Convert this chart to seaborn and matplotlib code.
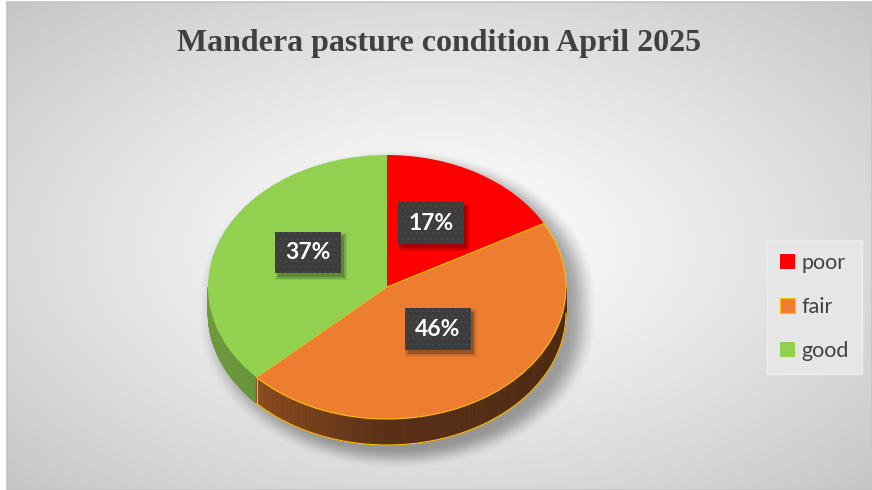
import numpy as np
import matplotlib
matplotlib.use("Agg")
import matplotlib.pyplot as plt
import seaborn as sns
from matplotlib.collections import PolyCollection
from matplotlib.patches import Rectangle
from matplotlib.colors import to_rgb

categories = ["poor", "fair", "good"]
shares = [17, 46, 37]
hex_colors = ["#FF0000", "#ED7D31", "#92D050"]
title = "Mandera pasture condition April 2025"

sns.set_theme(style="white")
plt.rcParams["font.family"] = ["Lato", "DejaVu Sans"]
plt.rcParams["hatch.linewidth"] = 0.6
colors = sns.color_palette(hex_colors)

W, H = 872, 490
fig = plt.figure(figsize=(W / 100, H / 100), dpi=100)
fig.patch.set_facecolor("white")

# ---- chart-area background: radial grey gradient ----
bg = fig.add_axes([7 / W, 0, (W - 7) / W, (H - 2) / H])
bg.set_axis_off()
gx, gy = np.meshgrid(np.linspace(-1, 1, 400), np.linspace(-1, 1, 240))
r = np.sqrt(gx ** 2 + gy ** 2) / np.sqrt(2)
val = 1.0 - (1.0 - 0.775) * np.clip(r, 0, 1) ** 1.2
bg.imshow(np.dstack([val, val, val]), extent=[0, 1, 0, 1], aspect="auto",
          interpolation="bilinear")
bg.set_xlim(0, 1)
bg.set_ylim(0, 1)
bg.add_patch(Rectangle((0, 0), 1, 1, fill=False, ec="#c4c4c4", lw=1.2,
                       transform=bg.transAxes, clip_on=False))

# ---- pie axes (elliptical projection: 179 px per x unit, 132 px per y unit) ----
cx, cy, rx, ry = 387, 287, 179, 132
xl, yt, yb = 1.3, 1.3, 1.5
ax = fig.add_axes([(cx - xl * rx) / W, (H - (cy + yb * ry)) / H,
                   2 * xl * rx / W, (yt + yb) * ry / H])
depth = 26 / ry

wedges, texts, autotexts = ax.pie(
    shares, colors=colors, startangle=90, counterclock=False,
    autopct=lambda p: f"{p:.0f}%", pctdistance=0.48,
    wedgeprops=dict(linewidth=0),
)
ax.set_aspect("auto")
ax.set_xlim(-xl, xl)
ax.set_ylim(-yb, yt)
ax.set_axis_off()
for w in wedges:
    w.set_zorder(3)
wedges[1].set_edgecolor("#FFC000")
wedges[1].set_linewidth(0.8)

# soft drop shadow under the disc
sx, sy = np.meshgrid(np.linspace(-xl, xl, 500), np.linspace(yt, -yb, 500))
xs = sx - 0.06
ys = sy + 0.07
yc = ys - np.clip(ys, -depth, 0)
rr = np.sqrt(xs ** 2 + yc ** 2)
t = np.clip((rr - 0.95) / 0.17, 0, 1)
alpha = 0.34 * (1 - t * t * (3 - 2 * t))
shadow = np.zeros(sx.shape + (4,))
shadow[..., 3] = alpha
ax.imshow(shadow, extent=[-xl, xl, -yb, yt], aspect="auto", zorder=1,
          interpolation="bilinear")


def wedge_index(angle):
    for i, w in enumerate(wedges):
        a, b = w.theta1, w.theta2
        if (angle - a) % 360 <= (b - a):
            return i
    return 0


# visible rim of the disc (front half), shaded by angle
step = 0.5
polys, fcs = [], []
for a in np.arange(180, 360, step):
    t1, t2 = np.radians(a), np.radians(a + step)
    i = wedge_index(a + step / 2)
    c = np.cos((t1 + t2) / 2)
    shade = 0.37 + 0.30 * max(-c, 0) - 0.04 * max(c, 0)
    if i == 2:
        shade = 0.62 + 0.12 * max(-c, 0)
    base = np.array(to_rgb(colors[i]))
    polys.append([(np.cos(t1), np.sin(t1)), (np.cos(t2), np.sin(t2)),
                  (np.cos(t2), np.sin(t2) - depth), (np.cos(t1), np.sin(t1) - depth)])
    fcs.append(tuple(np.clip(base * shade, 0, 1)))
ax.add_collection(PolyCollection(polys, facecolors=fcs, edgecolors=fcs,
                                 linewidths=0.4, zorder=2))

# golden outline along the orange rim
o1 = wedges[1].theta1
ang = np.radians(np.linspace(o1, 0, 200))
ax.plot(np.cos(ang), np.sin(ang) - depth, color="#FFC000", lw=0.8, zorder=2.5)
ax.plot([np.cos(np.radians(o1))] * 2,
        [np.sin(np.radians(o1)), np.sin(np.radians(o1)) - depth],
        color="#FFC000", lw=0.8, zorder=2.5)

# percentage labels in dark boxes
for at in autotexts:
    x, y = at.get_position()
    at.set_position((x, y + 0.07))
    at.set_fontsize(16.5)
    at.set_fontweight("bold")
    at.set_color("white")
    at.set_zorder(6)
    at.set_bbox(dict(boxstyle="square,pad=0.45", fc="#3d3d3d", ec="#4d4d4d",
                     lw=0, hatch="..."))

# title
fig.text(439 / W, 1 - 43 / H, title, ha="center", va="center",
         family=["Liberation Serif", "DejaVu Serif"], fontweight="bold",
         fontsize=23, color="#404040")

# legend
leg = fig.legend(wedges, categories, loc="center left",
                 bbox_to_anchor=(767 / W, 1 - 307 / H),
                 frameon=True, fancybox=False, facecolor="#e6e6e6",
                 edgecolor="#ededed", framealpha=1,
                 prop={"family": ["Lato", "DejaVu Sans"], "size": 15.5},
                 labelcolor="#404040", handlelength=0.7, handleheight=0.7,
                 handletextpad=0.3, labelspacing=1.1, borderpad=0.6,
                 borderaxespad=0)

# soft shadows behind the label boxes, placed from their drawn extents
fig.canvas.draw()
renderer = fig.canvas.get_renderer()
inv = ax.transData.inverted()
for at in autotexts:
    bb = at.get_bbox_patch().get_window_extent(renderer)
    for grow, a in [(3, 0.08), (1.5, 0.12), (0, 0.18)]:
        (x0, y0) = inv.transform((bb.x0 + 3 - grow, bb.y0 - 4 - grow))
        (x1, y1) = inv.transform((bb.x1 + 3 + grow, bb.y1 - 4 + grow))
        ax.add_patch(Rectangle((x0, y0), x1 - x0, y1 - y0, fc=(0, 0, 0, a),
                               lw=0, zorder=5))

fig.savefig("out.png", dpi=100)
